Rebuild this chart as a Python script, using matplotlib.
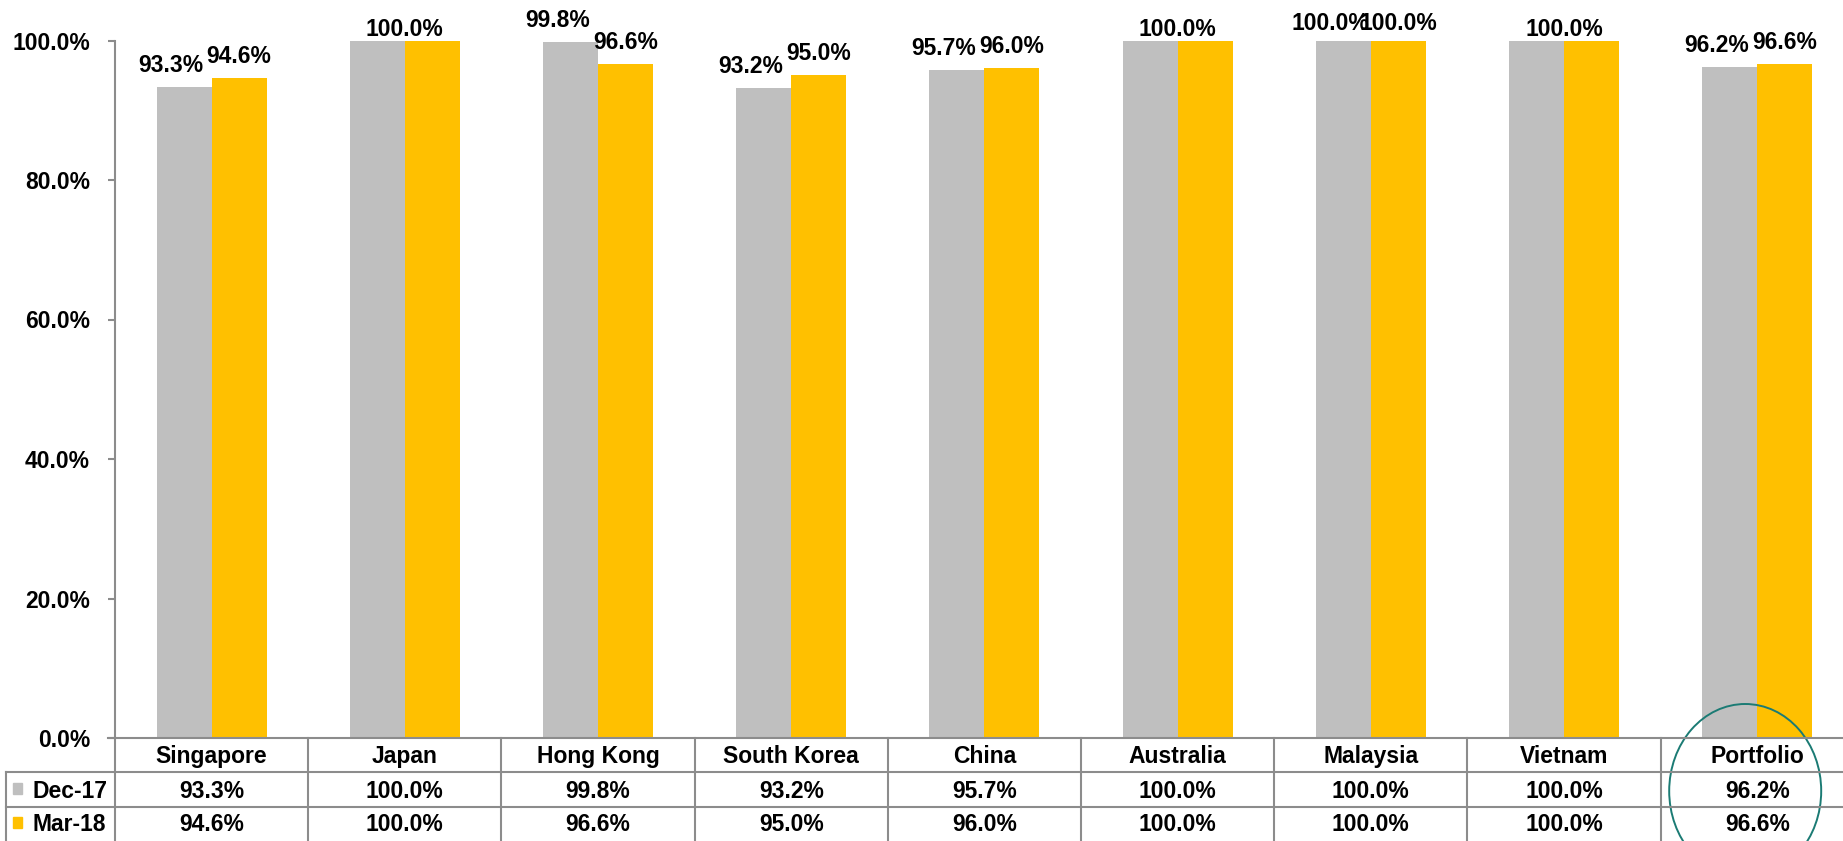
import matplotlib
matplotlib.use("Agg")
import matplotlib.pyplot as plt
import numpy as np
from matplotlib.patches import Ellipse, Rectangle

# data
categories = ["Singapore", "Japan", "Hong Kong", "South Korea", "China",
              "Australia", "Malaysia", "Vietnam", "Portfolio"]
series_names = ["Dec-17", "Mar-18"]
dec17 = [93.3, 100.0, 99.8, 93.2, 95.7, 100.0, 100.0, 100.0, 96.2]
mar18 = [94.6, 100.0, 96.6, 95.0, 96.0, 100.0, 100.0, 100.0, 96.6]
y_ticks = [0, 20, 40, 60, 80, 100]
shared_label = ["Japan", "Australia", "Vietnam"]  # one label over both bars
highlight = "Portfolio"

GREY = "#BFBFBF"
GOLD = "#FFC000"
LINE = "#8C8C8C"
TEAL = "#1B7B74"
W, H = 1843, 841
AX_L, AX_T, AX_B = 115, 40.5, 738      # plot area, in pixels from top-left
CAT_W = 193.2
ROW_Y = [738, 772, 807, 845]
FS = 16.5

plt.rcParams["font.family"] = ["Liberation Sans", "DejaVu Sans"]
plt.rcParams["font.weight"] = "bold"

fig = plt.figure(figsize=(W / 100, H / 100), dpi=100)
ax = fig.add_axes([AX_L / W, 1 - AX_B / H, len(categories) * CAT_W / W, (AX_B - AX_T) / H])

x = np.arange(len(categories))
bw = 55 / CAT_W
d = np.array(dec17) / 100
m = np.array(mar18) / 100
ax.bar(x - bw / 2, d, bw, color=GREY, zorder=2)
ax.bar(x + bw / 2, m, bw, color=GOLD, zorder=2)

ax.set_xlim(-0.5, len(categories) - 0.5)
ax.set_ylim(0, 1)
ax.set_xticks([])
ax.set_yticks(np.array(y_ticks) / 100)
ax.set_yticklabels([f"{v:.1f}%" for v in y_ticks], fontsize=FS, fontweight="bold")
for s in ["top", "right", "bottom"]:
    ax.spines[s].set_visible(False)
ax.spines["left"].set_color(LINE)
ax.spines["left"].set_linewidth(1.5)
ax.tick_params(axis="y", length=5, width=1.5, color=LINE, pad=13)

# value labels above bars
for i, cat in enumerate(categories):
    if cat in shared_label:
        ax.annotate(f"{dec17[i]:.1f}%", (i, d[i]), xytext=(0, 5), textcoords="offset pixels",
                    ha="center", va="baseline", fontsize=FS, fontweight="bold", annotation_clip=False)
        continue
    for xv, v, dx in [(i - bw / 2, dec17[i], -13), (i + bw / 2, mar18[i], 0)]:
        off = 15 if v < 100 else 11
        ax.annotate(f"{v:.1f}%", (xv, v / 100), xytext=(dx, off), textcoords="offset pixels",
                    ha="center", va="baseline", fontsize=FS, fontweight="bold", annotation_clip=False)

# data table drawn in pixel coordinates on an overlay
ov = fig.add_axes([0, 0, 1, 1])
ov.set_xlim(0, W)
ov.set_ylim(H, 0)
ov.axis("off")

lw = 1.5
ov.plot([108, W], [ROW_Y[0]] * 2, color=LINE, lw=lw)
for yy in ROW_Y[1:3]:
    ov.plot([6, W], [yy] * 2, color=LINE, lw=lw)
ov.plot([6, 6], [ROW_Y[1], ROW_Y[3]], color=LINE, lw=lw)
for k in range(len(categories) + 1):
    xx = AX_L + k * CAT_W
    ov.plot([xx, xx], [ROW_Y[0], ROW_Y[3]], color=LINE, lw=lw)

header_base, row_base = 763, [798.5, 831]
for i, cat in enumerate(categories):
    cx = AX_L + (i + 0.5) * CAT_W
    ov.text(cx, header_base, cat, ha="center", va="baseline", fontsize=FS, fontweight="bold")
    for vals, yb in zip([dec17, mar18], row_base):
        ov.text(cx, yb, f"{vals[i]:.1f}%", ha="center", va="baseline", fontsize=FS, fontweight="bold")

for name, col, yb, sq in zip(series_names, [GREY, GOLD], row_base, [783, 817]):
    ov.add_patch(Rectangle((13, sq), 9, 10.5, color=col))
    ov.text(32, yb, name, ha="left", va="baseline", fontsize=FS, fontweight="bold")

hi = categories.index(highlight)
ov.add_patch(Ellipse((AX_L + (hi + 0.5) * CAT_W - 12, 791), 152, 174,
                     fill=False, edgecolor=TEAL, lw=1.4))

fig.savefig("out.png", dpi=100)
